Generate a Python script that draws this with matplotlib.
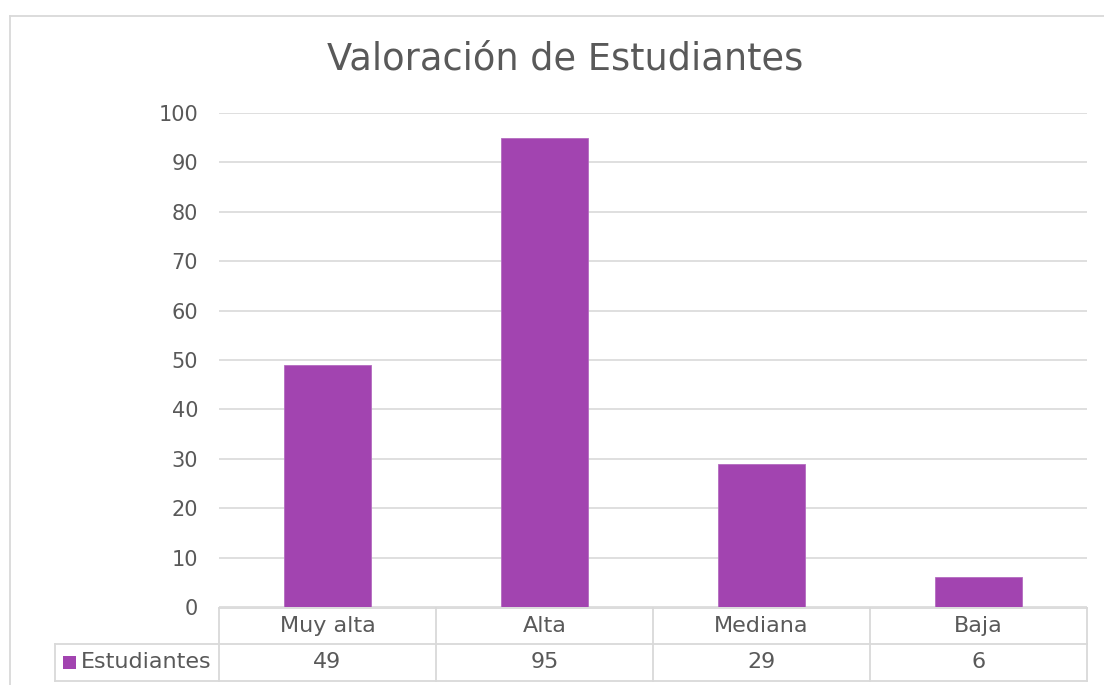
import matplotlib
matplotlib.use("Agg")
import matplotlib.pyplot as plt
from matplotlib.patches import Rectangle
from matplotlib.lines import Line2D
import matplotlib.transforms as mtransforms

categories = ["Muy alta", "Alta", "Mediana", "Baja"]
values = [49, 95, 29, 6]
series_name = "Estudiantes"
title = "Valoración de Estudiantes"
yticks = [0, 10, 20, 30, 40, 50, 60, 70, 80, 90, 100]

W, H = 1104, 685
fig = plt.figure(figsize=(W / 100, H / 100), dpi=100)
plt.rcParams['font.family'] = ['DejaVu Sans']

BAR = "#a244b0"
GRID = "#d9d9d9"
TXT = "#595959"

def fx(px):
    return px / W

def fy(py):
    return 1 - py / H

ax = fig.add_axes([fx(219), fy(607), fx(1087) - fx(219), fy(113) - fy(607)])
x = list(range(len(categories)))
ax.bar(x, values, width=0.4, color=BAR, edgecolor="#b46cc0", linewidth=0.6, zorder=3)
ax.set_xlim(-0.5, len(categories) - 0.5)
ax.set_ylim(0, 100)
ax.set_yticks(yticks)
ax.set_yticklabels([str(t) for t in yticks], fontsize=15, color=TXT)
ax.tick_params(axis="y", length=0, pad=15)
ax.set_xticks([])
for s in ax.spines.values():
    s.set_visible(False)
ax.grid(axis="y", color=GRID, linewidth=1.2, zorder=0)
ax.set_axisbelow(True)

fig.text(fx(565), fy(59), title, ha="center", va="center", fontsize=26.5, color=TXT)

# data table
trans = mtransforms.blended_transform_factory(ax.transData, fig.transFigure)
n = len(categories)
y_top, y_mid, y_bot = fy(607.5), fy(644), fy(681)
lk = dict(color=GRID, linewidth=1.3, transform=trans, clip_on=False)
fig.add_artist(Line2D([-0.5, n - 0.5], [y_top, y_top], **lk))
fig.add_artist(Line2D([-0.5, n - 0.5], [y_bot, y_bot], **lk))
for b in range(n + 1):
    xb = b - 0.5
    fig.add_artist(Line2D([xb, xb], [y_top, y_bot], **lk))
lf = dict(color=GRID, linewidth=1.3, transform=fig.transFigure, clip_on=False)
fig.add_artist(Line2D([fx(55), fx(219)], [y_mid, y_mid], **lf))
fig.add_artist(Line2D([fx(219), fx(1087)], [y_mid, y_mid], **lf))
fig.add_artist(Line2D([fx(55), fx(219)], [y_bot, y_bot], **lf))
fig.add_artist(Line2D([fx(55), fx(55)], [y_mid, y_bot], **lf))

for i, (c, v) in enumerate(zip(categories, values)):
    fig.text(i, fy(626), c, transform=trans, ha="center", va="center", fontsize=16, color=TXT)
    fig.text(i, fy(662.5), str(v), transform=trans, ha="center", va="center", fontsize=16, color=TXT)

fig.add_artist(Rectangle((fx(63), fy(669)), fx(13), 13 / H, transform=fig.transFigure,
                         facecolor=BAR, edgecolor="none"))
fig.text(fx(81), fy(662.5), series_name, ha="left", va="center", fontsize=16, color=TXT)

# chart outer border
fig.add_artist(Line2D([fx(9.5), fx(1110)], [fy(15.5), fy(15.5)], color=GRID, linewidth=1.3,
                      transform=fig.transFigure))
fig.add_artist(Line2D([fx(9.5), fx(9.5)], [fy(15.5), fy(700)], color=GRID, linewidth=1.3,
                      transform=fig.transFigure))

fig.savefig("out.png", dpi=100)
